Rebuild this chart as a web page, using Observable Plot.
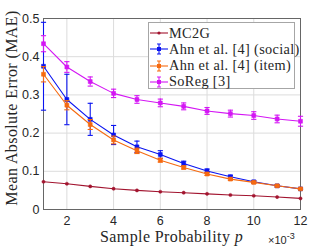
<!DOCTYPE html>
<html><head><meta charset="utf-8">
<script src="https://cdn.jsdelivr.net/npm/d3@7"></script>
<script src="https://cdn.jsdelivr.net/npm/@observablehq/plot@0.6"></script>
<style>
body{margin:0;background:#fff;}
#wrap{position:relative;width:332px;height:249px;overflow:hidden;}
.lab{position:absolute;font-family:"Liberation Serif",serif;color:#262626;white-space:nowrap;line-height:1;}
#legend{position:absolute;left:148px;top:22px;width:147px;height:67px;background:#fff;border:1px solid #a6a6a6;box-sizing:border-box;font-family:"Liberation Serif",serif;font-size:14.3px;letter-spacing:0.35px;color:#262626;}
.row{position:absolute;left:1px;height:16px;display:flex;align-items:center;white-space:nowrap;}
.row span{margin-left:1px;white-space:nowrap;}
</style></head>
<body><div id="wrap"></div>
<script>
const p = [1,2,3,4,5,6,7,8,9,10,11,12];
const mc2g = [0.0726,0.0674,0.0605,0.0544,0.0500,0.0465,0.0440,0.0410,0.0380,0.0360,0.0326,0.0290];
const social = [0.375,0.288,0.236,0.195,0.164,0.144,0.1205,0.101,0.0857,0.0726,0.062,0.054];
const socialErr = [0.115,0.066,0.042,0.025,0.015,0.010,0.006,0.005,0.004,0.003,0.003,0.002];
const item = [0.354,0.273,0.2225,0.182,0.1535,0.129,0.110,0.093,0.0796,0.071,0.062,0.054];
const itemErr = [0.02,0.012,0.013,0.010,0.007,0.005,0.004,0.004,0.003,0.003,0.003,0.002];
const soreg = [0.434,0.373,0.335,0.304,0.288,0.279,0.270,0.258,0.251,0.246,0.237,0.231];
const soregErr = [0.021,0.014,0.012,0.011,0.010,0.010,0.009,0.009,0.009,0.010,0.010,0.013];
const mc2gErr = [0,0,0,0,0,0,0,0,0,0,0,0];
const names = ["MC2G","Ahn et al. [4] (social)","Ahn et al. [4] (item)","SoReg [3]"];
const colors = ["#a2142f","#0a14f0","#f66a10","#d416f4"];
const xTicks = [2,4,6,8,10,12];
const yTicks = [0,0.1,0.2,0.3,0.4,0.5];

const series = [mc2g, social, item, soreg];
const errs = [mc2gErr, socialErr, itemErr, soregErr];
const rows = [];
series.forEach((s,k)=>s.forEach((v,i)=>rows.push({name:names[k], x:p[i], y:v, lo:v-errs[k][i], hi:v+errs[k][i]})));

const cap = {draw(ctx, size){const r=Math.sqrt(size/Math.PI); ctx.moveTo(-r,0); ctx.lineTo(r,0);}};
const marks = [
  Plot.gridX(xTicks,{stroke:"#dcdcdc",strokeOpacity:1}),
  Plot.gridY(yTicks,{stroke:"#dcdcdc",strokeOpacity:1}),
  Plot.frame({stroke:"#666"}),
  Plot.axisX(xTicks,{tickSize:0,tickPadding:7,fontSize:12.5,fontFamily:"Liberation Sans, sans-serif",fill:"#262626",label:null}),
  Plot.axisY(yTicks,{tickSize:0,tickPadding:4,fontSize:12.5,fontFamily:"Liberation Sans, sans-serif",fill:"#262626",label:null,tickFormat:d=>d===0?"0":d3.format(".1f")(d)})
];
names.forEach((n,k)=>{
  const d = rows.filter(r=>r.name===n);
  const c = colors[k];
  marks.push(Plot.line(d,{x:"x",y:"y",stroke:c,strokeWidth:1.1}));
  if (k>0) {
    marks.push(Plot.ruleX(d,{x:"x",y1:"lo",y2:"hi",stroke:c,strokeWidth:1.1}));
    marks.push(Plot.dot(d,{x:"x",y:"lo",symbol:cap,r:2.6,stroke:c,strokeWidth:1.1}));
    marks.push(Plot.dot(d,{x:"x",y:"hi",symbol:cap,r:2.6,stroke:c,strokeWidth:1.1}));
    marks.push(Plot.dot(d,{x:"x",y:"y",symbol:"square",r:2.2,fill:c,stroke:c,strokeWidth:0.6}));
  } else {
    marks.push(Plot.dot(d,{x:"x",y:"y",r:1.6,fill:c,stroke:c,strokeWidth:0.5}));
  }
});

const chart = Plot.plot({
  width:332,height:249,
  marginLeft:43,marginRight:32,marginTop:18,marginBottom:40,
  x:{domain:[1,12]},
  y:{domain:[0,0.5]},
  style:{background:"transparent"},
  marks
});
const wrap = document.getElementById("wrap");
wrap.appendChild(chart);

function addLab(text, css){const e=document.createElement("div");e.className="lab";e.innerHTML=text;Object.assign(e.style,css);wrap.appendChild(e);return e;}
addLab('Sample Probability <i>p</i>',{left:"100px",top:"229px",fontSize:"16px",letterSpacing:"0.4px"});
addLab('&times;10<span style="font-size:9px;position:relative;top:-5px">-3</span>',{left:"268px",top:"235px",fontSize:"11px",fontFamily:"Liberation Sans, sans-serif"});
addLab('Mean Absolute Error (MAE)',{left:"12px",top:"108px",fontSize:"16px",letterSpacing:"0.4px",transform:"translate(-50%,-50%) rotate(-90deg)"});

const lg = document.createElement("div"); lg.id="legend"; wrap.appendChild(lg);
names.forEach((n,k)=>{
  const r=document.createElement("div"); r.className="row"; r.style.top=(2+k*16.3)+"px";
  const c=colors[k];
  const mk = k===0 ? `<circle cx="9" cy="8" r="1.6" fill="${c}"/>` : `<rect x="7" y="6" width="4" height="4" fill="${c}"/>`;
  r.innerHTML=`<svg width="18" height="16"><line x1="0" y1="8" x2="18" y2="8" stroke="${c}" stroke-width="1.1"/>${k===0?"":`<line x1="9" y1="3" x2="9" y2="13" stroke="${c}" stroke-width="1.1"/><line x1="7" y1="3" x2="11" y2="3" stroke="${c}"/><line x1="7" y1="13" x2="11" y2="13" stroke="${c}"/>`}${mk}</svg><span>${n}</span>`;
  lg.appendChild(r);
});
</script></body></html>
